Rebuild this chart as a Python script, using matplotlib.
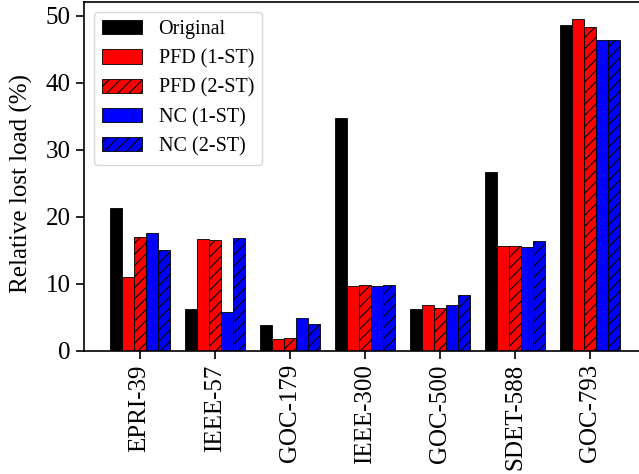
import matplotlib
matplotlib.use("Agg")
import matplotlib.pyplot as plt
import numpy as np

plt.rcParams['font.family'] = ['Liberation Serif', 'DejaVu Serif']
plt.rcParams['hatch.linewidth'] = 0.8

categories = ["EPRI-39", "IEEE-57", "GOC-179", "IEEE-300", "GOC-500", "SDET-588", "GOC-793"]
original = [21.3, 6.3, 3.85, 34.8, 6.3, 26.7, 48.7]
pfd_1st = [11.0, 16.7, 1.85, 9.7, 6.85, 15.65, 49.6]
pfd_2st = [17.0, 16.6, 1.95, 9.8, 6.4, 15.65, 48.35]
nc_1st = [17.6, 5.8, 4.9, 9.7, 6.85, 15.5, 46.45]
nc_2st = [15.1, 16.9, 4.0, 9.9, 8.3, 16.45, 46.35]

series = [
    ("Original", original, "black", None),
    ("PFD (1-ST)", pfd_1st, "red", None),
    ("PFD (2-ST)", pfd_2st, "red", "///"),
    ("NC (1-ST)", nc_1st, "blue", None),
    ("NC (2-ST)", nc_2st, "blue", "///"),
]

fig = plt.figure(figsize=(6.39, 4.74), dpi=100)
ax = fig.add_axes([0.1315, 0.2595, 1.0103 - 0.1315, 0.9958 - 0.2595])

x = np.arange(len(categories))
w = 0.16
for i, (name, vals, col, hatch) in enumerate(series):
    ax.bar(x + (i - 2) * w, vals, width=w, color=col, edgecolor="black",
           linewidth=0.6, hatch=hatch, label=name)

ax.set_xticks(x)
ax.set_xticklabels(categories, rotation=90, fontsize=18)
ax.set_yticks([0, 10, 20, 30, 40, 50])
ax.tick_params(axis='y', labelsize=18)
ax.tick_params(direction='out', length=6, width=1.2)
for s in ax.spines.values():
    s.set_linewidth(1.2)
ax.spines['right'].set_visible(False)
ax.set_ylabel("Relative lost load (%)", fontsize=18)
ax.yaxis.set_label_coords(-0.0908, 0.481)
ax.legend(loc="upper left", fontsize=14.5, handlelength=2.0, borderaxespad=0.5)

fig.savefig("out.png", dpi=100)
